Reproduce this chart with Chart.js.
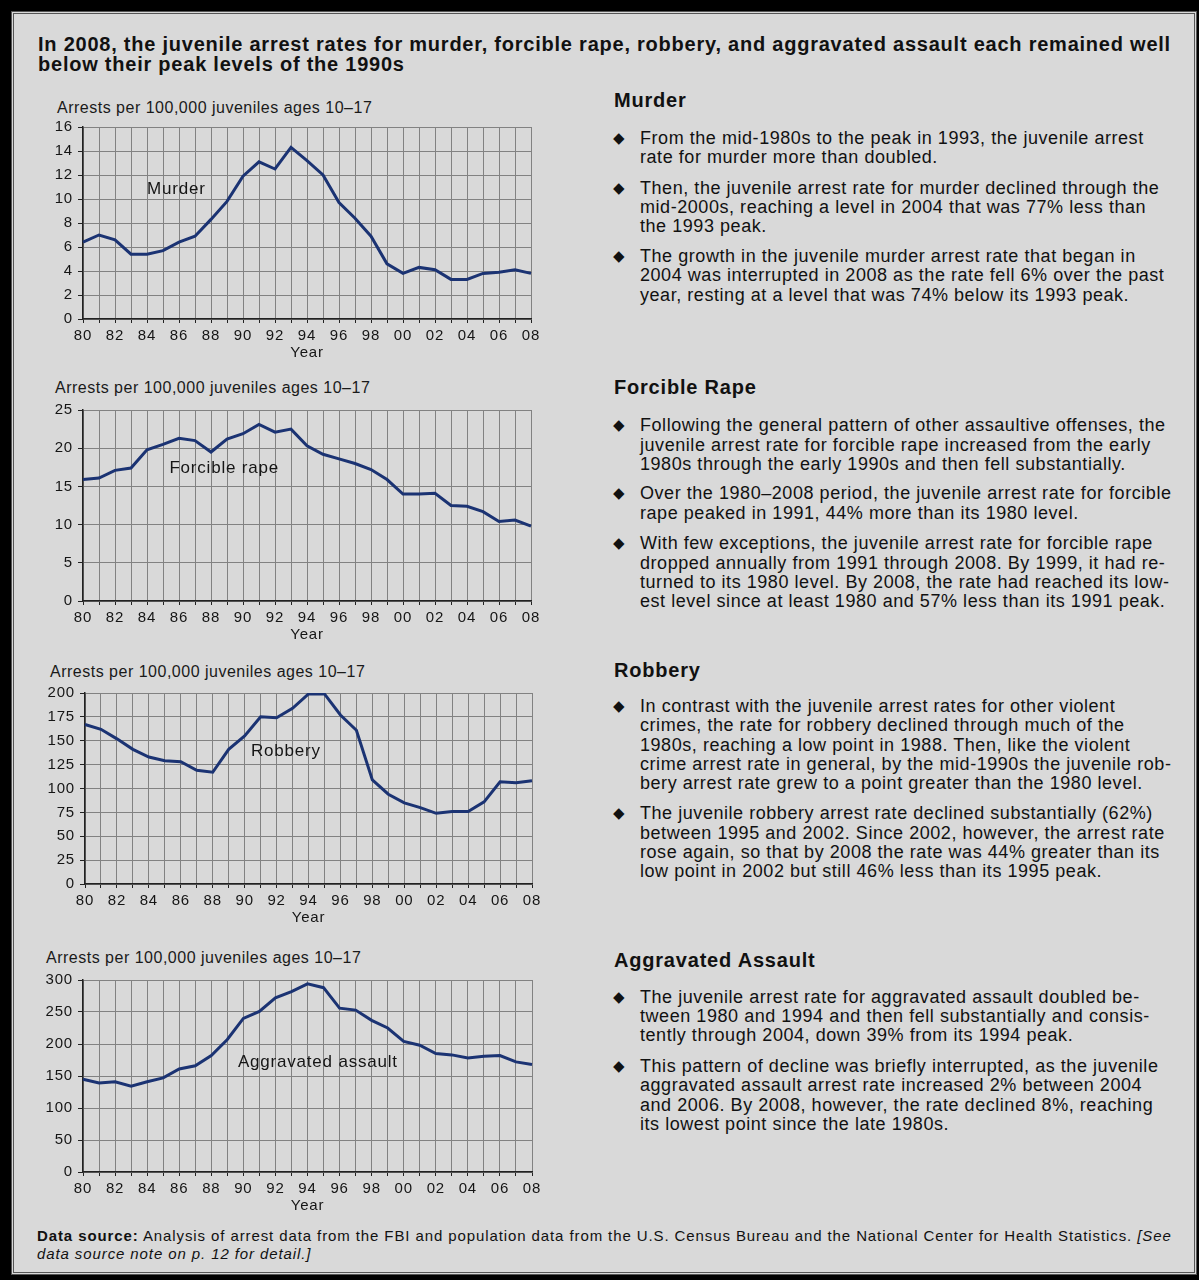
<!DOCTYPE html>
<html>
<head>
<meta charset="utf-8">
<script src="https://cdn.jsdelivr.net/npm/chart.js@4.4.1/dist/chart.umd.min.js"></script>
<style>
html, body { margin: 0; padding: 0; }
body { width: 1199px; height: 1280px; background: #000; position: relative; overflow: hidden;
       font-family: "Liberation Sans", Arial, sans-serif; color: #111; }
#panel { position: absolute; left: 11px; top: 11px; width: 1186px; height: 1264px; box-sizing: border-box;
         background: #d9d9d9; border: 3px double #555; }
.abs { position: absolute; white-space: nowrap; }
#title { left: 38px; top: 34px; font-weight: bold; font-size: 20px; line-height: 20px; letter-spacing: 0.77px; }
.ylab { font-size: 16px; line-height: 20px; letter-spacing: 0.5px; color: #1a1a1a; }
.hd { left: 614px; font-weight: bold; font-size: 20px; line-height: 24px; letter-spacing: 0.8px; }
.bl { left: 640px; font-size: 18px; line-height: 19.3px; letter-spacing: 0.55px; }
.bl::before { content: "\25C6"; position: absolute; left: -27px; top: 0; font-family: "DejaVu Sans"; font-size: 15px; }
#src { left: 37px; top: 1227px; font-size: 15px; line-height: 18px; letter-spacing: 0.9px; }
canvas { position: absolute; }
</style>
</head>
<body>
<div id="panel"></div>

<div id="title" class="abs">In 2008, the juvenile arrest rates for murder, forcible rape, robbery, and aggravated assault each remained well<br>below their peak levels of the 1990s</div>

<div class="abs ylab" style="left:57px;top:98px">Arrests per 100,000 juveniles ages 10–17</div>
<div class="abs ylab" style="left:55px;top:378px">Arrests per 100,000 juveniles ages 10–17</div>
<div class="abs ylab" style="left:50px;top:662px">Arrests per 100,000 juveniles ages 10–17</div>
<div class="abs ylab" style="left:46px;top:948px">Arrests per 100,000 juveniles ages 10–17</div>

<canvas id="murder" width="507" height="251" style="left:38px;top:113px"></canvas>
<canvas id="rape" width="507" height="250" style="left:38px;top:396px"></canvas>
<canvas id="robbery" width="506" height="250" style="left:40px;top:679px"></canvas>
<canvas id="assault" width="508" height="251" style="left:38px;top:966px"></canvas>

<div class="abs hd" style="top:88px">Murder</div>
<div class="abs bl" style="top:128.6px">From the mid-1980s to the peak in 1993, the juvenile arrest<br>rate for murder more than doubled.</div>
<div class="abs bl" style="top:178.6px">Then, the juvenile arrest rate for murder declined through the<br>mid-2000s, reaching a level in 2004 that was 77% less than<br>the 1993 peak.</div>
<div class="abs bl" style="top:247px">The growth in the juvenile murder arrest rate that began in<br>2004 was interrupted in 2008 as the rate fell 6% over the past<br>year, resting at a level that was 74% below its 1993 peak.</div>

<div class="abs hd" style="top:375.3px">Forcible Rape</div>
<div class="abs bl" style="top:416.3px">Following the general pattern of other assaultive offenses, the<br>juvenile arrest rate for forcible rape increased from the early<br>1980s through the early 1990s and then fell substantially.</div>
<div class="abs bl" style="top:484.3px">Over the 1980–2008 period, the juvenile arrest rate for forcible<br>rape peaked in 1991, 44% more than its 1980 level.</div>
<div class="abs bl" style="top:534.3px">With few exceptions, the juvenile arrest rate for forcible rape<br>dropped annually from 1991 through 2008. By 1999, it had re-<br>turned to its 1980 level. By 2008, the rate had reached its low-<br>est level since at least 1980 and 57% less than its 1991 peak.</div>

<div class="abs hd" style="top:658px">Robbery</div>
<div class="abs bl" style="top:697px">In contrast with the juvenile arrest rates for other violent<br>crimes, the rate for robbery declined through much of the<br>1980s, reaching a low point in 1988. Then, like the violent<br>crime arrest rate in general, by the mid-1990s the juvenile rob-<br>bery arrest rate grew to a point greater than the 1980 level.</div>
<div class="abs bl" style="top:804.3px">The juvenile robbery arrest rate declined substantially (62%)<br>between 1995 and 2002. Since 2002, however, the arrest rate<br>rose again, so that by 2008 the rate was 44% greater than its<br>low point in 2002 but still 46% less than its 1995 peak.</div>

<div class="abs hd" style="top:948px">Aggravated Assault</div>
<div class="abs bl" style="top:987.6px">The juvenile arrest rate for aggravated assault doubled be-<br>tween 1980 and 1994 and then fell substantially and consis-<br>tently through 2004, down 39% from its 1994 peak.</div>
<div class="abs bl" style="top:1057px">This pattern of decline was briefly interrupted, as the juvenile<br>aggravated assault arrest rate increased 2% between 2004<br>and 2006. By 2008, however, the rate declined 8%, reaching<br>its lowest point since the late 1980s.</div>

<div id="src" class="abs"><b>Data source:</b> Analysis of arrest data from the FBI and population data from the U.S. Census Bureau and the National Center for Health Statistics. <i>[See</i><br><i>data source note on p. 12 for detail.]</i></div>

<script>
// years on the x axis, only the even ones get a label
const years = ['80','81','82','83','84','85','86','87','88','89','90','91','92','93','94',
               '95','96','97','98','99','00','01','02','03','04','05','06','07','08'];
const yearLabels = ['80','82','84','86','88','90','92','94','96','98','00','02','04','06','08'];

// arrests per 100,000 juveniles ages 10-17
const murder  = [6.4, 7.0, 6.6, 5.4, 5.4, 5.7, 6.4, 6.9, 8.3, 9.8, 11.9, 13.1, 12.5, 14.3, 13.2,
                 12.0, 9.7, 8.4, 6.9, 4.6, 3.8, 4.3, 4.1, 3.3, 3.3, 3.8, 3.9, 4.1, 3.8];
const rape    = [15.9, 16.1, 17.1, 17.4, 19.8, 20.5, 21.3, 21.0, 19.5, 21.2, 21.9, 23.1, 22.1, 22.5, 20.3,
                 19.2, 18.6, 18.0, 17.2, 15.9, 14.0, 14.0, 14.1, 12.5, 12.4, 11.7, 10.4, 10.6, 9.8];
const robbery = [167, 162, 152, 141, 133, 129, 128, 119, 117, 141, 155, 175, 174, 184, 199,
                 199, 177, 161, 109, 94, 85, 80, 74, 76, 76, 86, 107, 106, 108];
const assault = [145, 139, 141, 134, 141, 147, 161, 166, 182, 207, 240, 251, 272, 282, 294,
                 288, 256, 253, 237, 225, 204, 198, 185, 183, 178, 181, 182, 172, 168];

// y axis tick labels
const murderTicks  = [0, 2, 4, 6, 8, 10, 12, 14, 16];
const rapeTicks    = [0, 5, 10, 15, 20, 25];
const robberyTicks = [0, 25, 50, 75, 100, 125, 150, 175, 200];
const assaultTicks = [0, 50, 100, 150, 200, 250, 300];

const FONT = '"Liberation Sans", Arial, sans-serif';
const INK = '#151515';
const LINE = '#1b3373';

// canvas text in the original is a bit loose
const spacing = {
    id: 'spacing',
    beforeUpdate(chart) { chart.ctx.letterSpacing = '0.8px'; },
    beforeDraw(chart) { chart.ctx.letterSpacing = '0.8px'; }
};

// series name written inside the plot
const note = {
    id: 'note',
    afterDatasetsDraw(chart, args, opts) {
        const {ctx, scales: {x, y}} = chart;
        ctx.save();
        ctx.font = '17px ' + FONT;
        ctx.fillStyle = INK;
        ctx.textAlign = 'left';
        ctx.textBaseline = 'middle';
        ctx.fillText(opts.text, x.getPixelForValue(opts.at), y.getPixelForValue(opts.value));
        ctx.restore();
    }
};

function drawChart(id, values, ticks, label) {
    return new Chart(document.getElementById(id), {
        type: 'line',
        data: {
            labels: years,
            datasets: [{
                data: values,
                borderColor: LINE,
                borderWidth: 3,
                pointRadius: 0,
                tension: 0,
                fill: false
            }]
        },
        options: {
            responsive: false,
            animation: false,
            events: [],
            layout: { padding: { left: 0, top: 12, right: 14, bottom: 2 } },
            plugins: {
                legend: { display: false },
                tooltip: { enabled: false },
                note: label
            },
            scales: {
                x: {
                    grid: { color: '#828282', lineWidth: 1, tickLength: 4, tickColor: '#222' },
                    border: { color: '#222', width: 1.5 },
                    ticks: {
                        autoSkip: false, maxRotation: 0, padding: 4, color: INK,
                        font: { family: FONT, size: 15 },
                        callback: (v, i) => yearLabels.includes(years[i]) ? years[i] : ''
                    },
                    title: { display: true, text: 'Year', color: INK, padding: 0,
                             font: { family: FONT, size: 15 } },
                    afterFit: (s) => { s.height = 43; }
                },
                y: {
                    min: 0,
                    max: ticks[ticks.length - 1],
                    grid: { color: '#828282', lineWidth: 1, tickLength: 5, tickColor: '#222' },
                    border: { color: '#222', width: 1.5 },
                    ticks: { padding: 5, color: INK, font: { family: FONT, size: 15 } },
                    afterBuildTicks: (s) => { s.ticks = ticks.map(v => ({ value: v })); },
                    afterFit: (s) => { s.width = 45; }
                }
            }
        },
        plugins: [spacing, note]
    });
}

drawChart('murder', murder, murderTicks, { text: 'Murder', at: 4, value: 10.8 });
drawChart('rape', rape, rapeTicks, { text: 'Forcible rape', at: 5.4, value: 17.4 });
drawChart('robbery', robbery, robberyTicks, { text: 'Robbery', at: 10.4, value: 139 });
drawChart('assault', assault, assaultTicks, { text: 'Aggravated assault', at: 9.66, value: 172 });
</script>
</body>
</html>
